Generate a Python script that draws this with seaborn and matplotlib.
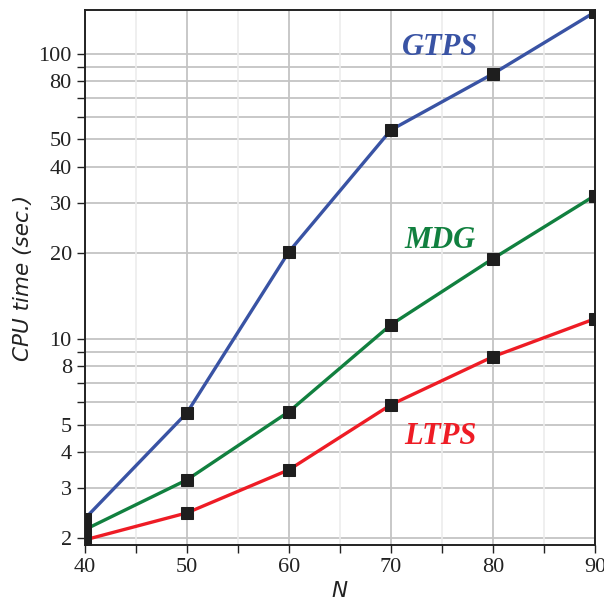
import numpy as np
import pandas as pd
import matplotlib
matplotlib.use('Agg')
import matplotlib.pyplot as plt
import matplotlib.ticker as mticker
import seaborn as sns

# data
N = [40, 50, 60, 70, 80, 90]
gtps = [2.34, 5.5, 20.2, 54.0, 85.0, 140.0]
mdg = [2.14, 3.2, 5.55, 11.2, 19.1, 31.8]
ltps = [1.97, 2.45, 3.47, 5.87, 8.65, 11.75]

methods = ['GTPS', 'MDG', 'LTPS']
colors = {'GTPS': '#3953a4', 'MDG': '#11803f', 'LTPS': '#ee1c25'}
label_pos = {'GTPS': (74.8, 105), 'MDG': (74.8, 22.2), 'LTPS': (74.8, 4.55)}

y_labelled = [2, 3, 4, 5, 8, 10, 20, 30, 40, 50, 80, 100]
y_grid = [2, 3, 4, 5, 6, 7, 8, 9, 10, 20, 30, 40, 50, 60, 70, 80, 90, 100]

df = pd.DataFrame({
    'N': N * 3,
    'time': gtps + mdg + ltps,
    'method': ['GTPS'] * 6 + ['MDG'] * 6 + ['LTPS'] * 6,
})

sns.set_style('white')
fig = plt.figure(figsize=(6.04, 6.04), dpi=100)
ax = fig.add_axes([0.1407, 0.0977, 0.8443, 0.8853])

# grid first so it sits below the data
for v in y_grid:
    ax.axhline(v, color='#c4c4c4', lw=1.3, zorder=0)
for v in np.arange(40, 91, 10):
    ax.axvline(v, color='#c4c4c4', lw=1.3, zorder=0)
for v in np.arange(45, 90, 10):
    ax.axvline(v, color='#ececec', lw=1.2, zorder=0)

sns.lineplot(data=df, x='N', y='time', hue='method', palette=colors,
             hue_order=methods, lw=2.4, marker='s', markersize=8.5,
             markerfacecolor='#1e1e1e', markeredgecolor='#1e1e1e',
             legend=False, ax=ax, zorder=3)

ax.set_yscale('log')
ax.set_xlim(40, 90)
ax.set_ylim(1.89, 142)
ax.yaxis.set_major_locator(mticker.FixedLocator(y_labelled))
ax.yaxis.set_major_formatter(mticker.FixedFormatter([str(v) for v in y_labelled]))
ax.yaxis.set_minor_locator(mticker.FixedLocator([6, 7, 9, 60, 70, 90]))
ax.yaxis.set_minor_formatter(mticker.NullFormatter())
ax.xaxis.set_major_locator(mticker.MultipleLocator(10))
ax.xaxis.set_minor_locator(mticker.MultipleLocator(5))

ax.tick_params(which='both', direction='out', color='#222222', width=1.0, length=6)
ax.tick_params(axis='x', which='both', bottom=True)
ax.tick_params(axis='y', which='both', left=True)
for lab in ax.get_xticklabels() + ax.get_yticklabels():
    lab.set_fontfamily('Liberation Serif')
    lab.set_fontsize(16)
    lab.set_color('#222222')

for side in ['left', 'bottom', 'top', 'right']:
    ax.spines[side].set_color('#222222')
    ax.spines[side].set_linewidth(1.4)
    ax.spines[side].set_visible(True)

ax.set_xlabel('N', fontsize=15.5, style='italic', family='DejaVu Sans', labelpad=3, color='#222222')
ax.set_ylabel('CPU time (sec.)', fontsize=15.5, style='italic', family='DejaVu Sans', labelpad=4, color='#222222')

for m in methods:
    x, y = label_pos[m]
    ax.text(x, y, m, color=colors[m], fontsize=22, fontweight='bold', style='italic',
            family='Liberation Serif', ha='center', va='center')

fig.savefig('out.png', dpi=100)
